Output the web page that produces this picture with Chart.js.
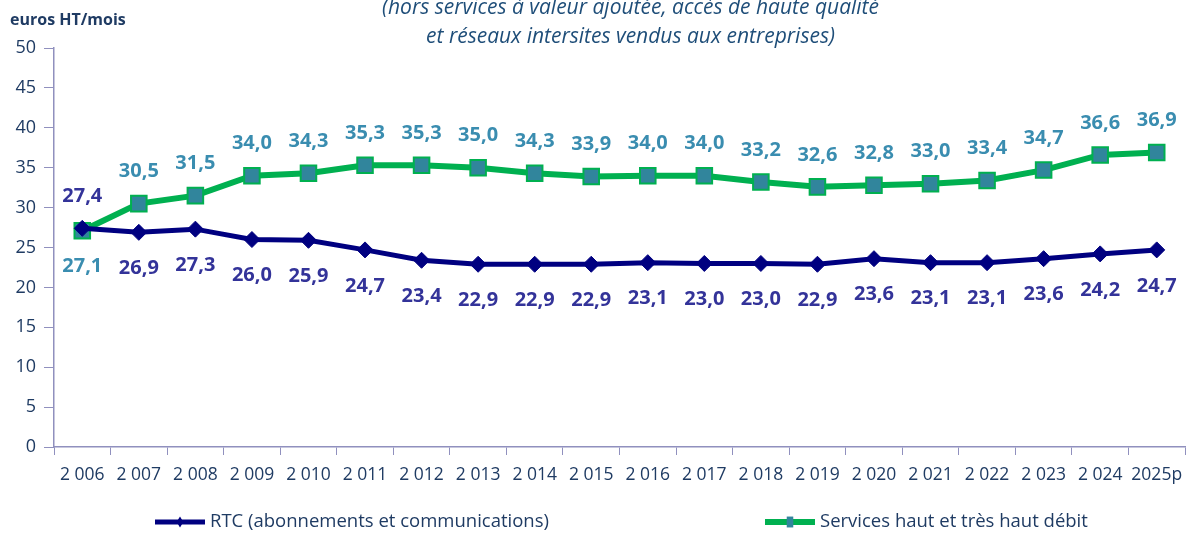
<!DOCTYPE html>
<html>
<head>
<meta charset="utf-8">
<script src="https://cdn.jsdelivr.net/npm/chart.js@4/dist/chart.umd.min.js"></script>
<style>
  html, body { margin: 0; padding: 0; background: #fff; }
  #chart { display: block; }
</style>
</head>
<body>
<canvas id="chart" width="1187" height="535"></canvas>
<script>
// years (x axis)
const years = ["2 006", "2 007", "2 008", "2 009", "2 010", "2 011", "2 012", "2 013", "2 014", "2 015",
    "2 016", "2 017", "2 018", "2 019", "2 020", "2 021", "2 022", "2 023", "2 024", "2025p"]

// RTC (abonnements et communications)
const rtc = [27.4, 26.9, 27.3, 26.0, 25.9, 24.7, 23.4, 22.9, 22.9, 22.9,
    23.1, 23.0, 23.0, 22.9, 23.6, 23.1, 23.1, 23.6, 24.2, 24.7]

// Services haut et très haut débit
const hautDebit = [27.1, 30.5, 31.5, 34.0, 34.3, 35.3, 35.3, 35.0, 34.3, 33.9,
    34.0, 34.0, 33.2, 32.6, 32.8, 33.0, 33.4, 34.7, 36.6, 36.9]

const titleLines = ["(hors services à valeur ajoutée, accès de haute qualité",
    "et réseaux intersites vendus aux entreprises)"]
const unitLabel = "euros HT/mois"

const textColor = "#1F3B63"
const axisColor = "#9090BE"
const font = "'Open Sans', 'Noto Sans', sans-serif"


function fmt(v) {
    return v.toFixed(1).replace(".", ",")
}


// value labels, title, unit and legend
const decorations = {
    id: "decorations",
    afterDatasetsDraw(chart) {
        let ctx = chart.ctx
        ctx.save()
        ctx.font = "bold 20px " + font
        ctx.textAlign = "center"
        ctx.textBaseline = "middle"
        chart.data.datasets.forEach((ds, i) => {
            let meta = chart.getDatasetMeta(i)
            ctx.fillStyle = ds.labelColor
            meta.data.forEach((pt, j) => {
                let above = ds.labelAbove(j)
                let y = above ? pt.y - 32 : pt.y + 36
                ctx.fillText(fmt(ds.data[j]), pt.x, y)
            })
        })
        ctx.restore()
    },
    afterDraw(chart) {
        let ctx = chart.ctx
        let area = chart.chartArea
        ctx.save()

        // title (cut at the top like the source)
        ctx.fillStyle = "#1F4E79"
        ctx.font = "italic 21px " + font
        ctx.textAlign = "center"
        ctx.textBaseline = "middle"
        let cx = (area.left + area.right) / 2 + 11
        ctx.fillText(titleLines[0], cx, area.top - 40)
        ctx.fillText(titleLines[1], cx, area.top - 11)

        // unit
        ctx.fillStyle = textColor
        ctx.font = "bold 16px " + font
        ctx.textAlign = "left"
        ctx.fillText(unitLabel, 10, area.top - 28)

        // legend
        let ly = chart.height - 13
        let starts = [155, 765]
        ctx.font = "18.5px " + font
        chart.data.datasets.forEach((ds, i) => {
            let x0 = starts[i]
            ctx.strokeStyle = ds.borderColor
            ctx.lineWidth = ds.borderWidth
            ctx.beginPath()
            ctx.moveTo(x0, ly)
            ctx.lineTo(x0 + 50, ly)
            ctx.stroke()
            ctx.fillStyle = ds.pointBackgroundColor
            let r = ds.pointRadius * 0.7
            if (ds.pointStyle === "rect") {
                let s = r / Math.SQRT2
                ctx.fillRect(x0 + 25 - s * 0.6, ly - s, 2 * s * 0.6, 2 * s)
            } else {
                ctx.beginPath()
                ctx.moveTo(x0 + 25, ly - r)
                ctx.lineTo(x0 + 25 + r * 0.6, ly)
                ctx.lineTo(x0 + 25, ly + r)
                ctx.lineTo(x0 + 25 - r * 0.6, ly)
                ctx.closePath()
                ctx.fill()
            }
            ctx.fillStyle = textColor
            ctx.textAlign = "left"
            ctx.fillText(ds.label, x0 + 55, ly)
        })
        ctx.restore()
    }
}


let ctx = document.getElementById("chart")

let chart = new Chart(ctx, {
    type: "line",
    data: {
        labels: years,
        datasets: [{
            label: "RTC (abonnements et communications)",
            data: rtc,
            borderColor: "#000080",
            borderWidth: 5,
            pointStyle: "rectRot",
            pointRadius: 8,
            pointBackgroundColor: "#000080",
            pointBorderColor: "#000080",
            pointBorderWidth: 1,
            labelColor: "#333399",
            labelAbove: j => j === 0
        }, {
            label: "Services haut et très haut débit",
            data: hautDebit,
            borderColor: "#00B050",
            borderWidth: 6,
            pointStyle: "rect",
            pointRadius: 11,
            pointBackgroundColor: "#31859C",
            pointBorderColor: "#00B050",
            pointBorderWidth: 2,
            labelColor: "#3A8DB0",
            labelAbove: j => j !== 0
        }]
    },
    options: {
        responsive: false,
        animation: false,
        layout: {
            autoPadding: false,
            padding: { top: 48, right: 2, bottom: 40, left: 0 }
        },
        scales: {
            x: {
                offset: true,
                grid: {
                    offset: true,
                    drawOnChartArea: false,
                    tickLength: 8,
                    color: axisColor
                },
                border: { color: axisColor, width: 1.5 },
                ticks: {
                    color: textColor,
                    font: { family: font, size: 17.5 },
                    padding: 10,
                    maxRotation: 0,
                    autoSkip: false
                },
                afterFit: scale => {
                    scale.height = 48
                    scale.paddingLeft = 0
                    scale.paddingRight = 0
                }
            },
            y: {
                min: 0,
                max: 50,
                grid: {
                    drawOnChartArea: false,
                    tickLength: 10,
                    color: axisColor
                },
                border: { color: axisColor, width: 1.5 },
                ticks: {
                    stepSize: 5,
                    color: textColor,
                    font: { family: font, size: 18 },
                    padding: 8
                },
                afterFit: scale => { scale.width = 54 }
            }
        },
        plugins: {
            legend: { display: false },
            tooltip: { enabled: false }
        }
    },
    plugins: [decorations]
})
</script>
</body>
</html>
